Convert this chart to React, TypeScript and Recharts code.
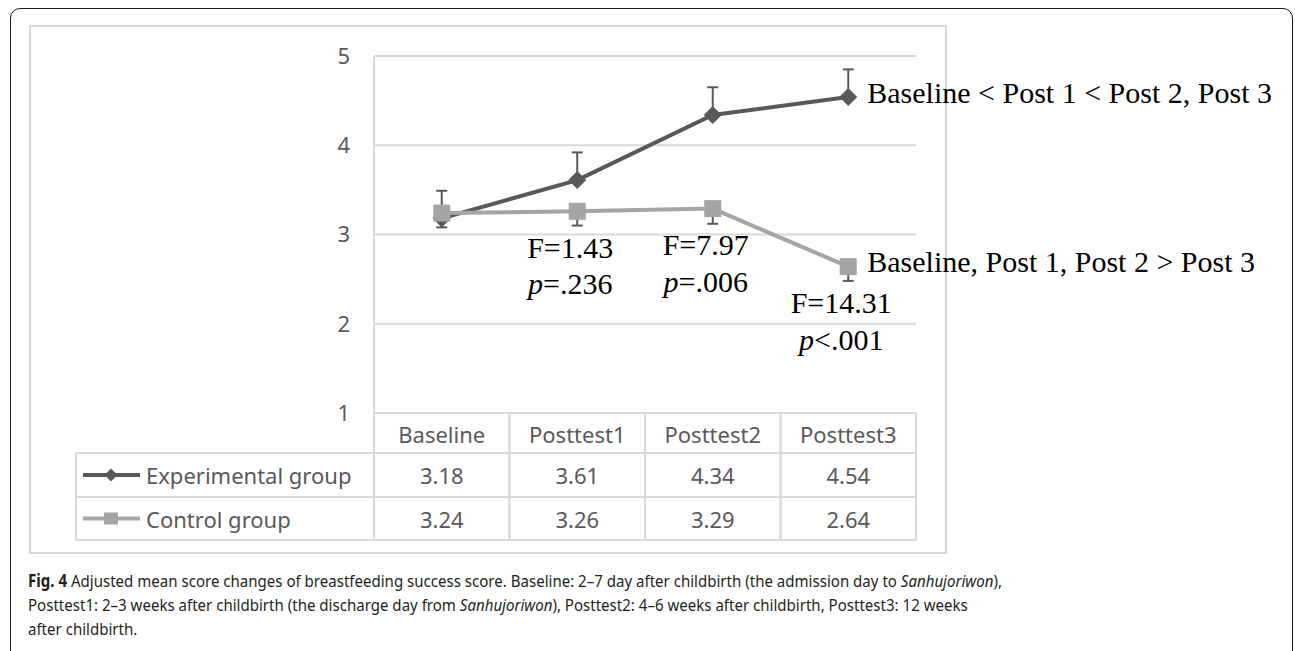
import React from 'react';
import {
  LineChart,
  Line,
  XAxis,
  YAxis,
  CartesianGrid,
  ErrorBar,
  LabelList,
} from 'recharts';

// values
const categories = ['Baseline', 'Posttest1', 'Posttest2', 'Posttest3'];
const experimental = [3.18, 3.61, 4.34, 4.54];
const control = [3.24, 3.26, 3.29, 2.64];
const experimentalSE = [0.31, 0.31, 0.31, 0.31]; // upper bars only
const controlSE = [0.16, 0.16, 0.17, 0.16]; // lower bars only
const fStats = ['', 'F=1.43', 'F=7.97', 'F=14.31'];
const pStats = ['', '=.236', '=.006', '<.001'];
const experimentalNote = 'Baseline < Post 1 < Post 2, Post 3';
const controlNote = 'Baseline, Post 1, Post 2 > Post 3';
const yTicks = [1, 2, 3, 4, 5];
const seriesNames = ['Experimental group', 'Control group'];

const data = categories.map((name, i) => ({
  name,
  experimental: experimental[i],
  control: control[i],
  expErr: [0, experimentalSE[i]],
  ctlErr: [controlSE[i], 0],
  fStat: fStats[i],
  pStat: pStats[i],
  expNote: i === categories.length - 1 ? experimentalNote : '',
  ctlNote: i === categories.length - 1 ? controlNote : '',
}));

const W = 1295;
const H = 651;
const PLOT_LEFT = 374;
const PLOT_RIGHT = 916;
const PLOT_TOP = 56;
const PLOT_BOTTOM = 413;
const BAND = (PLOT_RIGHT - PLOT_LEFT) / categories.length;
const ROW1 = 453;
const ROW2 = 497;
const ROW3 = 540;
const TABLE_LEFT = 76;
const Y_AXIS_W = 60;
const X_AXIS_H = 130;

const DARK = '#595959';
const LIGHT = '#a5a5a5';
const GRID = '#d9d9d9';
const SANS = '"Noto Sans", sans-serif';
const SERIF = '"Liberation Serif", "Times New Roman", serif';

const pos = (p: any) => {
  const x = p.x != null ? p.x : p.viewBox?.x;
  const y = p.y != null ? p.y : p.viewBox?.y;
  return { x: Number(x), y: Number(y) };
};

const diamond = (cx: number, cy: number, r: number) =>
  `M${cx},${cy - r}L${cx + r},${cy}L${cx},${cy + r}L${cx - r},${cy}Z`;

const DiamondDot = (props: any) => {
  const { cx, cy, index } = props;
  if (cx == null || cy == null) return <g key={`ed-${index}`} />;
  return <path key={`ed-${index}`} d={diamond(cx, cy, 9)} fill={DARK} />;
};

const SquareDot = (props: any) => {
  const { cx, cy, index } = props;
  if (cx == null || cy == null) return <g key={`cd-${index}`} />;
  return <rect key={`cd-${index}`} x={cx - 8.5} y={cy - 8.5} width={17} height={17} fill={LIGHT} />;
};

const FLabel = (props: any) => {
  if (!props.value) return <g />;
  const { x, y } = pos(props);
  return (
    <text x={x - 7} y={y + 36} textAnchor="middle" dominantBaseline="central"
      fontFamily={SERIF} fontSize={30} fill="#000">
      {props.value}
    </text>
  );
};

const PLabel = (props: any) => {
  if (!props.value) return <g />;
  const { x, y } = pos(props);
  return (
    <text x={x - 7} y={y + 72} textAnchor="middle" dominantBaseline="central"
      fontFamily={SERIF} fontSize={30} fill="#000">
      <tspan fontStyle="italic">p</tspan>
      <tspan>{props.value}</tspan>
    </text>
  );
};

const NoteLabel = (props: any) => {
  if (!props.value) return <g />;
  const { x, y } = pos(props);
  return (
    <text x={x + 19} y={y - 5} textAnchor="start" dominantBaseline="central"
      fontFamily={SERIF} fontSize={30} fill="#000">
      {props.value}
    </text>
  );
};

const TableTick = (props: any) => {
  const { x, y, payload } = props;
  const i = categories.indexOf(payload.value);
  const l = x - BAND / 2;
  const r = x + BAND / 2;
  const txt = { fontFamily: SANS, fontSize: 22, fill: DARK, textAnchor: 'middle' as const, dominantBaseline: 'central' as const };
  const ln = { stroke: GRID, strokeWidth: 2 };
  return (
    <g>
      <line x1={l} y1={y} x2={l} y2={ROW3} {...ln} />
      <line x1={r} y1={y} x2={r} y2={ROW3} {...ln} />
      <line x1={l} y1={ROW1} x2={r} y2={ROW1} {...ln} />
      <line x1={l} y1={ROW2} x2={r} y2={ROW2} {...ln} />
      <line x1={l} y1={ROW3} x2={r} y2={ROW3} {...ln} />
      <text x={x} y={(y + ROW1) / 2 + 1} {...txt}>{payload.value}</text>
      <text x={x} y={(ROW1 + ROW2) / 2} {...txt}>{experimental[i].toFixed(2)}</text>
      <text x={x} y={(ROW2 + ROW3) / 2} {...txt}>{control[i].toFixed(2)}</text>
      {i === 0 && (
        <g>
          <line x1={TABLE_LEFT} y1={ROW1} x2={l} y2={ROW1} {...ln} />
          <line x1={TABLE_LEFT} y1={ROW2} x2={l} y2={ROW2} {...ln} />
          <line x1={TABLE_LEFT} y1={ROW3} x2={l} y2={ROW3} {...ln} />
          <line x1={TABLE_LEFT} y1={ROW1} x2={TABLE_LEFT} y2={ROW3} {...ln} />
          <line x1={83} y1={(ROW1 + ROW2) / 2} x2={140} y2={(ROW1 + ROW2) / 2} stroke={DARK} strokeWidth={4} />
          <path d={diamond(111, (ROW1 + ROW2) / 2, 6.5)} fill={DARK} />
          <line x1={83} y1={(ROW2 + ROW3) / 2} x2={140} y2={(ROW2 + ROW3) / 2} stroke={LIGHT} strokeWidth={4} />
          <rect x={104} y={(ROW2 + ROW3) / 2 - 6} width={14} height={12} fill={LIGHT} />
          <text x={146} y={(ROW1 + ROW2) / 2} {...txt} textAnchor="start">{seriesNames[0]}</text>
          <text x={146} y={(ROW2 + ROW3) / 2} {...txt} textAnchor="start">{seriesNames[1]}</text>
        </g>
      )}
    </g>
  );
};

export default function App() {
  return (
    <div style={{ position: 'fixed', left: 0, top: 0, width: W, height: H, overflow: 'hidden', background: '#fff' }}>
      <div style={{
        position: 'absolute', left: 10, top: 8, width: 1283, height: 700,
        border: '1.5px solid #1a1a1a', borderRadius: 10, boxSizing: 'border-box',
      }} />
      <div style={{
        position: 'absolute', left: 29, top: 25, width: 918, height: 529,
        border: `2px solid ${GRID}`, boxSizing: 'border-box',
      }} />
      <div style={{ position: 'absolute', left: 0, top: 0 }}>
        <LineChart
          width={W}
          height={H}
          data={data}
          margin={{
            top: PLOT_TOP,
            left: PLOT_LEFT - Y_AXIS_W,
            right: W - PLOT_RIGHT,
            bottom: H - PLOT_BOTTOM - X_AXIS_H,
          }}
        >
          <CartesianGrid vertical={false} stroke={GRID} strokeWidth={2} />
          <XAxis
            dataKey="name"
            padding={{ left: BAND / 2, right: BAND / 2 }}
            axisLine={false}
            tickLine={false}
            tickSize={0}
            tickMargin={0}
            height={X_AXIS_H}
            interval={0}
            tick={<TableTick />}
          />
          <YAxis
            domain={[1, 5]}
            ticks={yTicks}
            width={Y_AXIS_W}
            axisLine={{ stroke: GRID, strokeWidth: 2 }}
            tickLine={false}
            tickSize={0}
            tickMargin={24}
            tick={{ fontFamily: SANS, fontSize: 22, fill: DARK }}
          />
          <Line
            dataKey="experimental"
            stroke={DARK}
            strokeWidth={4}
            dot={DiamondDot}
            activeDot={false}
            isAnimationActive={false}
          >
            <ErrorBar dataKey="expErr" direction="y" width={5.5} stroke={DARK} strokeWidth={2} />
            <LabelList dataKey="expNote" content={NoteLabel} />
          </Line>
          <Line
            dataKey="control"
            stroke={LIGHT}
            strokeWidth={4}
            dot={SquareDot}
            activeDot={false}
            isAnimationActive={false}
          >
            <ErrorBar dataKey="ctlErr" direction="y" width={5.5} stroke={DARK} strokeWidth={2} />
            <LabelList dataKey="fStat" content={FLabel} />
            <LabelList dataKey="pStat" content={PLabel} />
            <LabelList dataKey="ctlNote" content={NoteLabel} />
          </Line>
        </LineChart>
      </div>
      <div style={{
        position: 'absolute', left: 28, top: 569, whiteSpace: 'nowrap',
        fontFamily: SANS, fontSize: 17, lineHeight: '24px', color: '#231f20',
        transform: 'scaleX(0.885)', transformOrigin: 'left top',
      }}>
        <b>Fig. 4</b> Adjusted mean score changes of breastfeeding success score. Baseline: 2–7 day after childbirth (the admission day to <i>Sanhujoriwon</i>),<br />
        Posttest1: 2–3 weeks after childbirth (the discharge day from <i>Sanhujoriwon</i>), Posttest2: 4–6 weeks after childbirth, Posttest3: 12 weeks<br />
        after childbirth.
      </div>
    </div>
  );
}
